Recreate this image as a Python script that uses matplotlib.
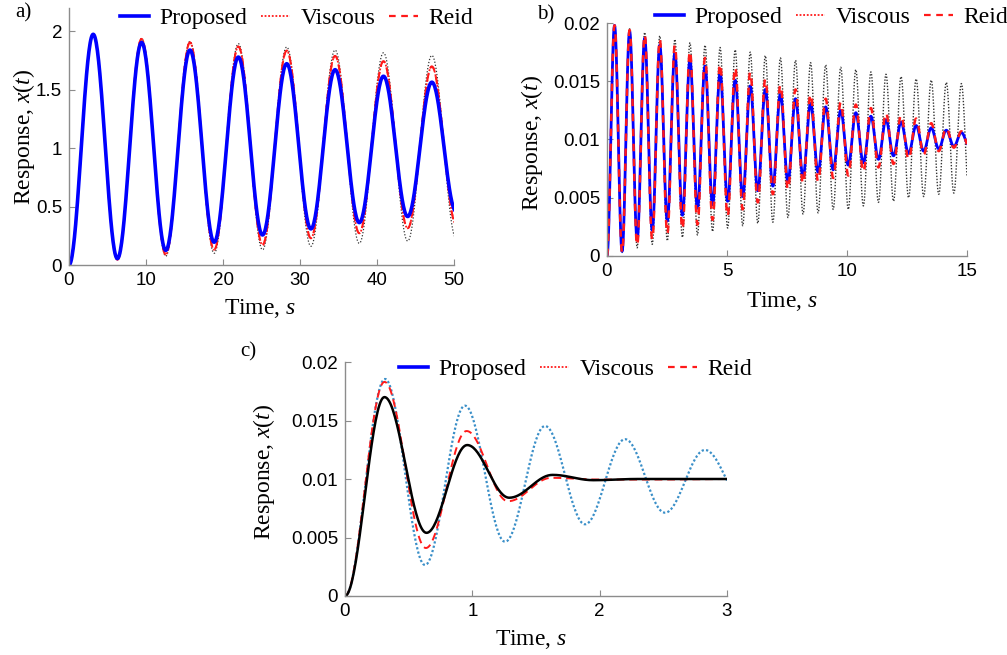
import numpy as np
import matplotlib.pyplot as plt
from matplotlib.lines import Line2D

plt.rcParams['font.family'] = 'Liberation Serif'
plt.rcParams['mathtext.fontset'] = 'custom'
plt.rcParams['mathtext.rm'] = 'Liberation Serif'
plt.rcParams['mathtext.it'] = 'Liberation Serif:italic'

# ---- panel a: extremes every half period (period 2*pi s), starting at t=0
a_half_period = np.pi
a_proposed = [0, 1.975, 0.055, 1.905, 0.125, 1.84, 0.195, 1.78, 0.257, 1.723,
              0.309, 1.672, 0.363, 1.616, 0.415, 1.565, 0.46]
a_reid = [0, 1.975, 0.045, 1.935, 0.09, 1.905, 0.13, 1.87, 0.172, 1.835,
          0.229, 1.79, 0.272, 1.745, 0.315, 1.70, 0.35]
a_viscous = [0, 1.975, 0.04, 1.94, 0.075, 1.915, 0.10, 1.895, 0.13, 1.866,
             0.16, 1.84, 0.185, 1.817, 0.205, 1.794, 0.23]

# ---- panel b: extremes every half period (period 0.628 s)
b_half_period = np.pi / 10
b_prop_peaks = [0.0198, 0.0193, 0.0187, 0.0181, 0.0174, 0.0168, 0.0163, 0.0157,
                0.0151, 0.0146, 0.0143, 0.0139, 0.0135, 0.0131, 0.0128, 0.0125,
                0.0123, 0.0120, 0.0117, 0.0115, 0.0112, 0.0110, 0.0108, 0.0106]
b_prop_troughs = [0.0004, 0.0014, 0.0022, 0.0030, 0.0035, 0.0041, 0.0044, 0.0047,
                  0.0051, 0.0056, 0.0060, 0.0064, 0.0068, 0.0072, 0.0074, 0.0078,
                  0.0080, 0.0083, 0.0086, 0.0088, 0.0090, 0.0092, 0.0094, 0.0095]
b_reid_peaks = [0.0198, 0.0194, 0.0190, 0.0186, 0.0181, 0.0176, 0.0170, 0.0165,
                0.0162, 0.0158, 0.0152, 0.0147, 0.0143, 0.0139, 0.0135, 0.0132,
                0.0130, 0.0127, 0.0123, 0.0121, 0.0118, 0.0114, 0.0110, 0.0107]
b_reid_troughs = [0.0003, 0.0009, 0.0014, 0.0019, 0.0023, 0.0027, 0.0031, 0.0034,
                  0.0040, 0.0046, 0.0053, 0.0057, 0.0062, 0.0064, 0.0067, 0.0069,
                  0.0072, 0.0076, 0.0079, 0.0083, 0.0087, 0.0090, 0.0093, 0.0094]
b_visc_peaks = [0.0198, 0.0195, 0.0192, 0.0189, 0.0186, 0.0183, 0.0181, 0.0179,
                0.0177, 0.0175, 0.0172, 0.0170, 0.0168, 0.0166, 0.0164, 0.0162,
                0.0160, 0.0158, 0.0156, 0.0154, 0.0152, 0.0151, 0.0149, 0.0148]
b_visc_troughs = [0.0003, 0.0007, 0.0010, 0.0013, 0.0016, 0.0018, 0.0021, 0.0024,
                  0.0026, 0.0028, 0.0029, 0.0033, 0.0036, 0.0037, 0.0040, 0.0040,
                  0.0043, 0.0046, 0.0047, 0.0050, 0.0051, 0.0053, 0.0054, 0.0055]

# ---- panel c: extremes (time, value)
c_black_t = [0, 0.31, 0.64, 0.96, 1.29, 1.63, 1.95, 2.3, 3.0]
c_black_v = [0, 0.0170, 0.0054, 0.0129, 0.0084, 0.01035, 0.0099, 0.0100, 0.0100]
c_red_t = [0, 0.31, 0.635, 0.955, 1.28, 1.62, 2.0, 2.4, 3.0]
c_red_v = [0, 0.0183, 0.0041, 0.0141, 0.0081, 0.0101, 0.00995, 0.00995, 0.0100]
c_blue_t = [0, 0.314, 0.628, 0.942, 1.257, 1.571, 1.885, 2.199, 2.513, 2.827, 3.14]
c_blue_v = [0, 0.01855, 0.00265, 0.01627, 0.00464, 0.01453, 0.00613, 0.0134,
            0.00712, 0.01248, 0.0080]


def interleave(peaks, troughs):
    out = [0]
    for p, q in zip(peaks, troughs):
        out += [p, q]
    return out


def smooth(tk, vk, n=40):
    # half-cosine between successive extremes
    ts, vs = [], []
    for i in range(len(tk) - 1):
        s = np.linspace(0, 1, n, endpoint=False)
        ts.append(tk[i] + (tk[i + 1] - tk[i]) * s)
        vs.append(vk[i] + (vk[i + 1] - vk[i]) * (1 - np.cos(np.pi * s)) / 2)
    ts.append([tk[-1]])
    vs.append([vk[-1]])
    return np.concatenate(ts), np.concatenate(vs)


def style(ax, xlim, ylim, xt, yt, ytl):
    ax.set_xlim(*xlim)
    ax.set_ylim(*ylim)
    ax.set_xticks(xt)
    ax.set_yticks(yt)
    ax.set_yticklabels(ytl)
    for s in ['top', 'right']:
        ax.spines[s].set_visible(False)
    for s in ['left', 'bottom']:
        ax.spines[s].set_color('#8c8c8c')
        ax.spines[s].set_linewidth(1)
    ax.tick_params(direction='in', length=4, color='#8c8c8c', labelsize=13.5, pad=5)
    for lab in ax.get_xticklabels() + ax.get_yticklabels():
        lab.set_fontfamily('Liberation Sans')


fig = plt.figure(figsize=(10.07, 6.55), dpi=100)
W, H = 1007, 655


def px_axes(l, t, r, b):
    return fig.add_axes([l / W, 1 - b / H, (r - l) / W, (b - t) / H])


red = '#ff1a1a'
blue = '#0000ff'
ylab = r'Response, $\mathit{x(t)}$'
xlab = r'Time, $\mathit{s}$'

# panel a
ax = px_axes(69, 8, 454, 265)
ta = a_half_period * np.arange(len(a_proposed))
t, v = smooth(ta, a_viscous)
ax.plot(t, v, color='#333333', ls=(0, (1, 1.5)), lw=0.9)
t, v = smooth(ta, a_reid)
ax.plot(t, v, color=red, ls=(0, (1, 1)), lw=1.3)
ax.plot(t, v, color=red, ls=(0, (4, 2.5)), lw=1.5)
t, v = smooth(ta, a_proposed)
ax.plot(t, v, color=blue, lw=2.6)
style(ax, (0, 50), (0, 2.2), [0, 10, 20, 30, 40, 50], [0, 0.5, 1, 1.5, 2],
      ['0', '0.5', '1', '1.5', '2'])
ax.set_ylabel(ylab, fontsize=17)
ax.yaxis.set_label_coords(-0.083, 0.5)
ax.set_xlabel(xlab, fontsize=17)
ax.xaxis.set_label_coords(0.496, -0.125)
fig.text(15 / W, 1 - 13 / H, 'a)', fontsize=15, va='center', ha='left')

# panel b
ax = px_axes(607, 23, 967, 256)
tb = b_half_period * np.arange(2 * len(b_prop_peaks) + 1)
t, v = smooth(tb, interleave(b_visc_peaks, b_visc_troughs))
ax.plot(t, v, color='#333333', ls=(0, (1, 1.2)), lw=1.0)
t, v = smooth(tb, interleave(b_prop_peaks, b_prop_troughs))
ax.plot(t, v, color=blue, lw=2.0)
t, v = smooth(tb, interleave(b_reid_peaks, b_reid_troughs))
ax.plot(t, v, color=red, ls=(0, (3, 3)), lw=1.8)
style(ax, (0, 15), (0, 0.02), [0, 5, 10, 15], [0, 0.005, 0.01, 0.015, 0.02],
      ['0', '0.005', '0.01', '0.015', '0.02'])
ax.set_ylabel(ylab, fontsize=17)
ax.yaxis.set_label_coords(-0.172, 0.485)
ax.set_xlabel(xlab, fontsize=17)
ax.xaxis.set_label_coords(0.486, -0.146)
fig.text(537 / W, 1 - 15 / H, 'b)', fontsize=15, va='center', ha='left')

# panel c
ax = px_axes(345, 362, 727, 596)
t, v = smooth(c_blue_t, c_blue_v)
ax.plot(t, v, color='#3a8fc8', ls=(0, (1, 1)), lw=1.6)
t, v = smooth(c_red_t, c_red_v)
ax.plot(t, v, color=red, ls=(0, (4, 2.5)), lw=1.4)
t, v = smooth(c_black_t, c_black_v)
ax.plot(t, v, color='black', lw=1.8)
style(ax, (0, 3), (0, 0.02), [0, 1, 2, 3], [0, 0.005, 0.01, 0.015, 0.02],
      ['0', '0.005', '0.01', '0.015', '0.02'])
ax.set_ylabel(ylab, fontsize=17)
ax.yaxis.set_label_coords(-0.178, 0.53)
ax.set_xlabel(xlab, fontsize=17)
ax.xaxis.set_label_coords(0.487, -0.137)
fig.text(240 / W, 1 - 352 / H, 'c)', fontsize=15, va='center', ha='left')

# legends (same for all three panels)
handles = [Line2D([], [], color=blue, lw=2.6),
           Line2D([], [], color=red, ls=(0, (1, 1)), lw=1.3),
           Line2D([], [], color=red, ls=(0, (3, 2.5)), lw=1.6)]
names = ['Proposed', 'Viscous', 'Reid']
for cx, cy in [(296.5, 18), (831.5, 17), (575.5, 369)]:
    fig.legend(handles, names, loc='center', bbox_to_anchor=(cx / W, 1 - cy / H),
               ncol=3, frameon=False, fontsize=17, handlelength=1.25,
               handletextpad=0.45, columnspacing=0.55, borderpad=0, borderaxespad=0)

fig.savefig('out.png', dpi=100)
